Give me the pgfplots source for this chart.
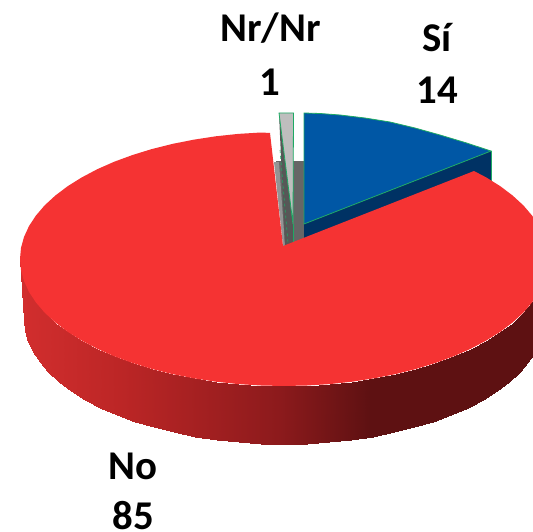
\documentclass[border=0pt]{standalone}
\usepackage{pgfplots}
\pgfplotsset{compat=1.18}
\usepackage{fontspec}
\setmainfont{Carlito}
\definecolor{piered}{RGB}{245,51,51}
\definecolor{pieblue}{RGB}{0,87,165}
\definecolor{bluedark}{RGB}{0,50,100}
\definecolor{edgegreen}{RGB}{30,170,100}
\definecolor{wallgrey}{RGB}{102,102,102}
\definecolor{lightgrey}{RGB}{190,190,190}
\begin{document}
\begin{tikzpicture}
\begin{axis}[
  scale only axis,
  width=533bp, height=532bp,
  xmin=0, xmax=533,
  ymin=0, ymax=532,
  y dir=reverse,
  hide axis,
  colormap={redside}{rgb255(0)=(210,46,46); rgb255(100)=(188,38,38); rgb255(260)=(140,26,28); rgb255(350)=(94,17,18); rgb255(513)=(94,17,18)},
  point meta min=20, point meta max=533,
]
% grey wall behind the small slice
\addplot[fill=wallgrey, draw=none] coordinates {(276,161) (305,161) (306,240) (284,246)} -- cycle;
\addplot[fill=black!42, draw=none] coordinates {(274,162) (279,162) (285,246) (283,246)} -- cycle;
% Si, side then top
\addplot[fill=bluedark, draw=none] coordinates {(304,224) (491,151) (491,190) (304,241)} -- cycle;
\addplot[draw=edgegreen, line width=0.8bp] coordinates {(491,151) (491,181)};
\addplot[fill=pieblue, draw=edgegreen, line width=0.8bp] coordinates {(304,224) (304,113) (320,113.5) (340,115) (365,118) (390,122) (415,128) (440,135) (465,142.5) (491,151)} -- cycle;
% Nr/Nr, side then top
\addplot[fill=black!66, draw=none] coordinates {(279,113) (293,224) (293,243) (285,246)} -- cycle;
\addplot[draw=edgegreen, line width=0.6bp, dashed] coordinates {(280,150) (288,243)};
\addplot[draw=edgegreen, line width=0.8bp] coordinates {(293,224) (293,243)};
\addplot[fill=lightgrey, draw=edgegreen, line width=0.8bp] coordinates {(279,113) (293.5,113) (293,224)} -- cycle;
% No, side
\addplot[patch, patch type=rectangle, shader=interp, point meta=x] coordinates {
(20,259) (24,320) (25,330.8) (21,270.1)
(21,270.1) (25,330.8) (28,341.5) (24,281)
(24,281) (28,341.5) (32.9,352.1) (29,291.9)
(29,291.9) (32.9,352.1) (39.7,362.4) (35.9,302.4)
(35.9,302.4) (39.7,362.4) (48.4,372.4) (44.7,312.7)
(44.7,312.7) (48.4,372.4) (58.8,382) (55.4,322.5)
(55.4,322.5) (58.8,382) (71,391.1) (67.7,331.8)
(67.7,331.8) (71,391.1) (84.8,399.7) (81.8,340.6)
(81.8,340.6) (84.8,399.7) (100.2,407.7) (97.3,348.8)
(97.3,348.8) (100.2,407.7) (116.9,415) (114.3,356.3)
(114.3,356.3) (116.9,415) (134.9,421.6) (132.6,363)
(132.6,363) (134.9,421.6) (154,427.4) (152,369)
(152,369) (154,427.4) (174.1,432.4) (172.4,374.1)
(172.4,374.1) (174.1,432.4) (195.1,436.5) (193.7,378.3)
(193.7,378.3) (195.1,436.5) (216.7,439.8) (215.7,381.7)
(215.7,381.7) (216.7,439.8) (238.9,442.1) (238.2,384.1)
(238.2,384.1) (238.9,442.1) (261.3,443.5) (261,385.5)
(261,385.5) (261.3,443.5) (284,444) (284,386)
(284,386) (284,444) (306.7,443.5) (307,385.5)
(307,385.5) (306.7,443.5) (329.1,442.1) (329.8,384.1)
(329.8,384.1) (329.1,442.1) (351.3,439.8) (352.3,381.7)
(352.3,381.7) (351.3,439.8) (372.9,436.5) (374.3,378.3)
(374.3,378.3) (372.9,436.5) (393.9,432.4) (395.6,374.1)
(395.6,374.1) (393.9,432.4) (414,427.4) (416,369)
(416,369) (414,427.4) (433.1,421.6) (435.4,363)
(435.4,363) (433.1,421.6) (451.1,415) (453.7,356.3)
(453.7,356.3) (451.1,415) (467.8,407.7) (470.7,348.8)
(470.7,348.8) (467.8,407.7) (483.2,399.7) (486.2,340.6)
(486.2,340.6) (483.2,399.7) (497,391.1) (500.3,331.8)
(500.3,331.8) (497,391.1) (509.2,382) (512.6,322.5)
(512.6,322.5) (509.2,382) (519.6,372.4) (523.3,312.7)
(523.3,312.7) (519.6,372.4) (528.3,362.4) (532.1,302.4)
(532.1,302.4) (528.3,362.4) (535.1,352.1) (539,291.9)
};
% No, top
\addplot[fill=piered, draw=none] coordinates {
(283,246) (474,171) (486.2,177.4) (500.3,186.2) (512.6,195.5) (523.3,205.3) (532.1,215.6)
(539,226.1) (544,237) (547,248) (548,259) (547,270) (544,281) (539,291.9)
(532.1,302.4) (523.3,312.7) (512.6,322.5) (500.3,331.8) (486.2,340.6) (470.7,348.8)
(453.7,356.3) (435.4,363) (416,369) (395.6,374.1) (374.3,378.3) (352.3,381.7)
(329.8,384.1) (307,385.5) (284,386) (261,385.5) (238.2,384.1) (215.7,381.7)
(193.7,378.3) (172.4,374.1) (152,369) (132.6,363) (114.3,356.3) (97.3,348.8)
(81.8,340.6) (67.7,331.8) (55.4,322.5) (44.7,312.7) (35.9,302.4) (29,291.9)
(24,281) (21,270.1) (20,259) (21,247.9) (24,237) (29,226.1) (35.9,215.6) (44.7,205.3)
(55.4,195.5) (67.7,186.2) (81.8,177.4) (97.3,169.2) (114.3,161.7) (132.6,155)
(152,149) (172.4,143.9) (193.7,139.7) (215.7,136.3) (238.2,133.9) (261,132.5) (270,133)
} -- cycle;
\path (rel axis cs:0,0) rectangle (rel axis cs:1,1);
\node[anchor=base, font=\fontsize{41}{41}\selectfont\bfseries] at (axis cs:270.5,42) {Nr/Nr};
\node[anchor=base, font=\fontsize{41}{41}\selectfont\bfseries] at (axis cs:270,95) {1};
\node[anchor=base, font=\fontsize{41}{41}\selectfont\bfseries] at (axis cs:437,52) {Sí};
\node[anchor=base, font=\fontsize{41}{41}\selectfont\bfseries] at (axis cs:437,103) {14};
\node[anchor=base, font=\fontsize{41}{41}\selectfont\bfseries] at (axis cs:133,479) {No};
\node[anchor=base, font=\fontsize{41}{41}\selectfont\bfseries] at (axis cs:133,529) {85};
\end{axis}
\end{tikzpicture}
\end{document}
